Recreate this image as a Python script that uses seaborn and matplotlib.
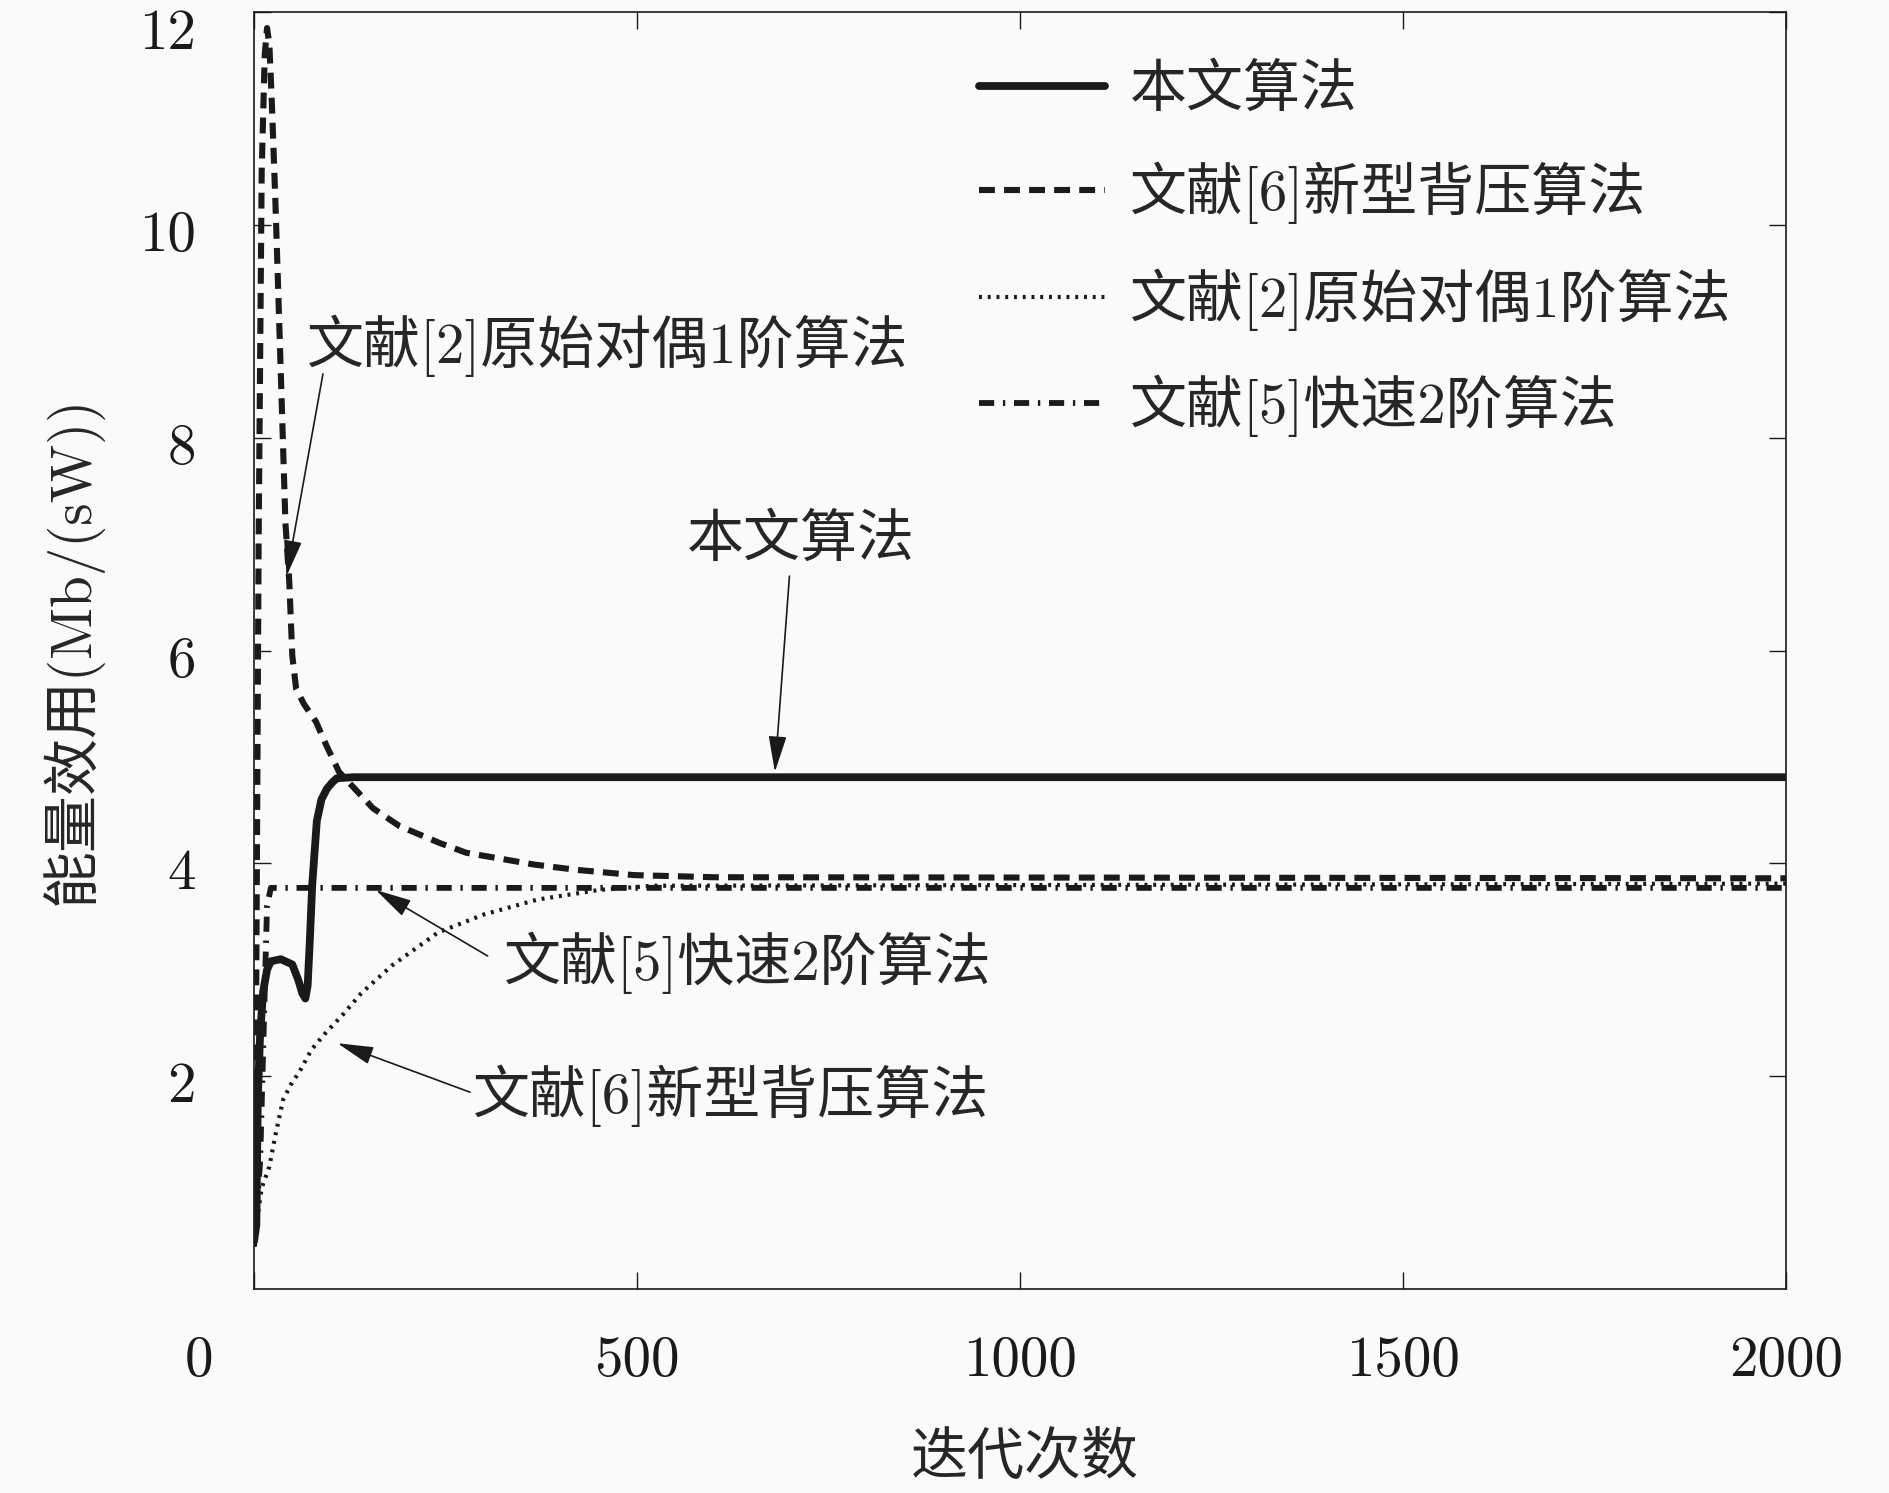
import numpy as np
import pandas as pd
import matplotlib
matplotlib.use('Agg')
import matplotlib.pyplot as plt
import matplotlib.transforms as mtransforms
from matplotlib.font_manager import FontProperties
import seaborn as sns

# values
ours_x = [0, 3, 5, 8, 12, 17, 22, 35, 50, 58, 63, 67, 70, 73, 76, 82, 88, 95, 102, 108, 130, 170, 2000]
ours_y = [0.45, 0.6, 1.8, 2.4, 2.8, 3.0, 3.08, 3.1, 3.05, 2.9, 2.78, 2.73, 2.85, 3.3, 3.8, 4.4, 4.6, 4.7, 4.76, 4.8, 4.81, 4.81, 4.81]

bp_x = [0, 3, 6, 10, 14, 17, 20, 23, 28, 35, 41, 46, 50, 55, 65, 81, 95, 111, 146, 155, 190, 243, 277, 365, 420, 496, 600, 2000]
bp_y = [0.5, 3.0, 7.0, 10.5, 11.6, 11.85, 11.7, 11.2, 10.2, 8.6, 7.2, 6.65, 5.95, 5.64, 5.5, 5.33, 5.1, 4.86, 4.59, 4.52, 4.35, 4.19, 4.10, 3.99, 3.94, 3.89, 3.87, 3.86]

pd1_x = [0, 5, 10, 15, 20, 28, 38, 48, 60, 75, 95, 115, 140, 180, 240, 300, 370, 450, 520, 2000]
pd1_y = [0.4, 0.7, 0.95, 1.05, 1.15, 1.45, 1.78, 1.92, 2.05, 2.25, 2.42, 2.57, 2.78, 3.04, 3.35, 3.52, 3.66, 3.75, 3.79, 3.81]

fast2_x = [0, 8, 14, 17, 22, 2000]
fast2_y = [0.4, 1.2, 2.8, 3.6, 3.77, 3.77]

labels = ['本文算法', '文献[6]新型背压算法', '文献[2]原始对偶1阶算法', '文献[5]快速2阶算法']
xticks = [0, 500, 1000, 1500, 2000]
yticks = [2, 4, 6, 8, 10, 12]

sns.set_theme(style='ticks')
fam = ['cmr10', 'Noto Sans CJK SC', 'DejaVu Serif']
plt.rcParams['font.family'] = fam
plt.rcParams['axes.formatter.use_mathtext'] = True
plt.rcParams['axes.unicode_minus'] = False
fs = 41

fig = plt.figure(figsize=(18.9, 14.93), dpi=100, facecolor='#fafafa')
ax = fig.add_axes([0.1344, 0.1366, 0.8106, 0.8553])
ax.set_facecolor('#fafafa')

sns.lineplot(x=pd1_x, y=pd1_y, ax=ax, color='k', linewidth=3.0, linestyle=(0, (0.7, 1.4)),
             estimator=None, sort=False, label=labels[2])
sns.lineplot(x=fast2_x, y=fast2_y, ax=ax, color='k', linewidth=4.2, linestyle=(0, (2.6, 1.5, 0.4, 1.5)),
             estimator=None, sort=False, label=labels[3])
sns.lineplot(x=bp_x, y=bp_y, ax=ax, color='k', linewidth=4.4, linestyle=(0, (2.6, 1.5)),
             estimator=None, sort=False, label=labels[1])
sns.lineplot(x=ours_x, y=ours_y, ax=ax, color='k', linewidth=5.6, linestyle='-',
             estimator=None, sort=False, label=labels[0])

ax.set_xlim(0, 2000)
ax.set_ylim(0, 12)
ax.set_xticks(xticks)
ax.set_xticklabels([str(v) for v in xticks])
ax.set_yticks(yticks)
ax.set_yticklabels([str(v) for v in yticks])
ax.tick_params(direction='in', length=12, width=1, top=True, right=True,
               labelsize=fs, colors='k')
ax.tick_params(axis='x', pad=34)
ax.tick_params(axis='y', pad=42)
for s in ax.spines.values():
    s.set_linewidth(1.2)
    s.set_color('k')

# the "0" sits left of the corner in the reference
lab0 = ax.get_xticklabels()[0]
lab0.set_transform(lab0.get_transform() + mtransforms.ScaledTranslation(-0.55, 0, fig.dpi_scale_trans))
# y labels sit a little below their ticks, "12" the most
for lab in ax.get_yticklabels():
    dy = -0.17 if lab.get_text() == '12' else -0.06
    lab.set_transform(lab.get_transform() + mtransforms.ScaledTranslation(0, dy, fig.dpi_scale_trans))

ax.set_xlabel('迭代次数', fontsize=fs)
ax.set_ylabel('能量效用(Mb/(sW))', fontsize=fs)
ax.xaxis.set_label_coords(0.503, -0.112)
ax.yaxis.set_label_coords(-0.099, 0.5)

# legend in the order of the reference
h, l = ax.get_legend_handles_labels()
order = [l.index(t) for t in labels]
ax.legend([h[i] for i in order], [l[i] for i in order], loc='upper left',
          bbox_to_anchor=(0.44, 1.0), frameon=False, handlelength=2.2,
          handletextpad=0.45, labelspacing=0.78,
          prop=FontProperties(family=fam, size=fs))

arrow = dict(arrowstyle='-|>,head_length=0.8,head_width=0.2', color='k', lw=1.2,
             mutation_scale=28, shrinkA=0, shrinkB=0)
notes = [
    ('文献[2]原始对偶1阶算法', (69, 8.86), (90, 8.6), (42.5, 6.70)),
    ('本文算法', (565, 7.04), (699, 6.70), (680, 4.86)),
    ('文献[5]快速2阶算法', (326, 3.07), (305, 3.13), (159, 3.75)),
    ('文献[6]新型背压算法', (286, 1.82), (282, 1.85), (109, 2.31)),
]
for txt, tpos, start, tip in notes:
    ax.text(tpos[0], tpos[1], txt, fontsize=fs, ha='left', va='center')
    ax.annotate('', xy=tip, xytext=start, arrowprops=arrow)

fig.savefig('out.png', dpi=100, facecolor=fig.get_facecolor())
